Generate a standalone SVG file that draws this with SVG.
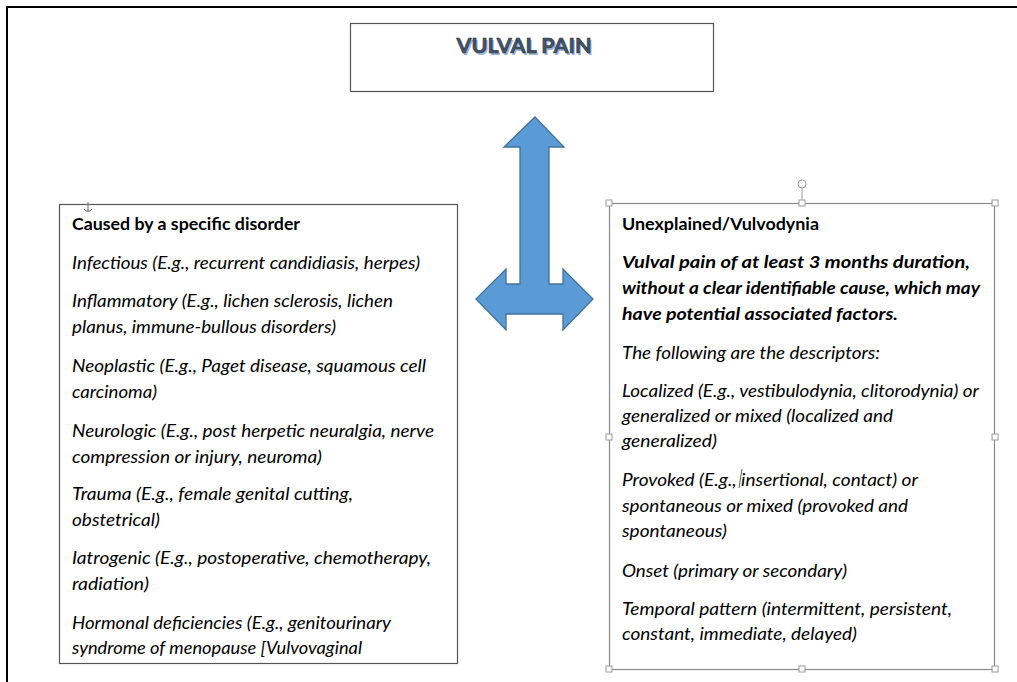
<svg xmlns="http://www.w3.org/2000/svg" width="1017" height="682" viewBox="0 0 1017 682">
<style>
.box{fill:#fff;stroke:#555;stroke-width:1.2}
.sel{fill:#fff;stroke:#8a8a8a;stroke-width:1.2}
.t{font-family:Lato,"Open Sans","Liberation Sans",sans-serif;font-size:17px;fill:#000}
.b{font-weight:bold}
.i{font-style:italic}
.h{fill:#fff;stroke:#999;stroke-width:1}
</style>
<rect width="1017" height="682" fill="#fff"/>
<path d="M7,682 V7 H1017" fill="none" stroke="#000" stroke-width="2"/>
<g id="node-title">
<rect class="box" x="350.5" y="23.5" width="363" height="68" stroke="#333"/>
<text x="525.5" y="54.5" text-anchor="middle" font-family="Lato,'Open Sans','Liberation Sans',sans-serif" font-size="20" font-weight="bold" fill="#9db3dc" textLength="135" lengthAdjust="spacingAndGlyphs">VULVAL PAIN</text>
<text x="524" y="53" text-anchor="middle" font-family="Lato,'Open Sans','Liberation Sans',sans-serif" font-size="20" font-weight="bold" fill="#44546a" stroke="#2b3440" stroke-width="0.6" textLength="135" lengthAdjust="spacingAndGlyphs">VULVAL PAIN</text>
</g>
<g id="connectors">
<path d="M535,117 L564,147 L549,147 L549,284 L563,284 L563,269 L593,299 L563,330 L563,314 L506,314 L506,330 L476,299 L506,269 L506,284 L520,284 L520,147 L504,147 Z" fill="#5b9bd5" stroke="#41719c" stroke-width="1.3" stroke-linejoin="miter"/>
</g>
<g id="node-left">
<rect class="box" x="59.5" y="204.5" width="398" height="459"/>
<g stroke="#666" stroke-width="1" fill="none"><path d="M88,202 V212 M85,204.5 H91 M84,209 Q88,214 92,209"/></g>
<text class="t b" x="72" y="230" textLength="228" lengthAdjust="spacingAndGlyphs">Caused by a specific disorder</text>
<text class="t i" x="72" y="269" textLength="348" lengthAdjust="spacingAndGlyphs">Infectious (E.g., recurrent candidiasis, herpes)</text>
<text class="t i" x="72" y="307" textLength="321" lengthAdjust="spacingAndGlyphs">Inflammatory (E.g., lichen sclerosis, lichen</text>
<text class="t i" x="72" y="333" textLength="264" lengthAdjust="spacingAndGlyphs">planus, immune-bullous disorders)</text>
<text class="t i" x="72" y="372" textLength="354" lengthAdjust="spacingAndGlyphs">Neoplastic (E.g., Paget disease, squamous cell</text>
<text class="t i" x="72" y="398" textLength="85" lengthAdjust="spacingAndGlyphs">carcinoma)</text>
<text class="t i" x="72" y="437" textLength="362" lengthAdjust="spacingAndGlyphs">Neurologic (E.g., post herpetic neuralgia, nerve</text>
<text class="t i" x="72" y="463" textLength="250" lengthAdjust="spacingAndGlyphs">compression or injury, neuroma)</text>
<text class="t i" x="72" y="500" textLength="281" lengthAdjust="spacingAndGlyphs">Trauma (E.g., female genital cutting,</text>
<text class="t i" x="72" y="526" textLength="88" lengthAdjust="spacingAndGlyphs">obstetrical)</text>
<text class="t i" x="72" y="564" textLength="359" lengthAdjust="spacingAndGlyphs">Iatrogenic (E.g., postoperative, chemotherapy,</text>
<text class="t i" x="72" y="590" textLength="77" lengthAdjust="spacingAndGlyphs">radiation)</text>
<text class="t i" x="72" y="629" textLength="319" lengthAdjust="spacingAndGlyphs">Hormonal deficiencies (E.g., genitourinary</text>
<text class="t i" x="72" y="654" textLength="290" lengthAdjust="spacingAndGlyphs">syndrome of menopause [Vulvovaginal</text>
</g>
<g id="node-right">
<rect class="sel" x="609.5" y="203.5" width="385" height="466"/>
<line x1="802" y1="188" x2="802" y2="203" stroke="#999" stroke-width="1"/>
<circle cx="802" cy="184" r="4" fill="#fff" stroke="#999" stroke-width="1"/>
<g class="h">
<rect x="606" y="200" width="6" height="6"/><rect x="799" y="200" width="6" height="6"/><rect x="992" y="200" width="6" height="6"/>
<rect x="606" y="434" width="6" height="6"/><rect x="992" y="434" width="6" height="6"/>
<rect x="606" y="666" width="6" height="6"/><rect x="799" y="666" width="6" height="6"/><rect x="992" y="666" width="6" height="6"/>
</g>
<text class="t b" x="622" y="230" textLength="197" lengthAdjust="spacingAndGlyphs">Unexplained/Vulvodynia</text>
<text class="t b i" x="622" y="268" textLength="348" lengthAdjust="spacingAndGlyphs">Vulval pain of at least 3 months duration,</text>
<text class="t b i" x="622" y="294" textLength="358" lengthAdjust="spacingAndGlyphs">without a clear identifiable cause, which may</text>
<text class="t b i" x="622" y="320" textLength="276" lengthAdjust="spacingAndGlyphs">have potential associated factors.</text>
<text class="t i" x="622" y="359" textLength="258" lengthAdjust="spacingAndGlyphs">The following are the descriptors:</text>
<text class="t i" x="622" y="397" textLength="357" lengthAdjust="spacingAndGlyphs">Localized (E.g., vestibulodynia, clitorodynia) or</text>
<text class="t i" x="622" y="422" textLength="271" lengthAdjust="spacingAndGlyphs">generalized or mixed (localized and</text>
<text class="t i" x="622" y="447" textLength="95" lengthAdjust="spacingAndGlyphs">generalized)</text>
<text class="t i" x="622" y="486" textLength="296" lengthAdjust="spacingAndGlyphs">Provoked (E.g., insertional, contact) or</text>
<line x1="742" y1="469" x2="739" y2="488" stroke="#333" stroke-width="0.8"/>
<text class="t i" x="622" y="512" textLength="286" lengthAdjust="spacingAndGlyphs">spontaneous or mixed (provoked and</text>
<text class="t i" x="622" y="537" textLength="105" lengthAdjust="spacingAndGlyphs">spontaneous)</text>
<text class="t i" x="622" y="577" textLength="225" lengthAdjust="spacingAndGlyphs">Onset (primary or secondary)</text>
<text class="t i" x="622" y="615" textLength="330" lengthAdjust="spacingAndGlyphs">Temporal pattern (intermittent, persistent,</text>
<text class="t i" x="622" y="640" textLength="235" lengthAdjust="spacingAndGlyphs">constant, immediate, delayed)</text>
</g>
</svg>
